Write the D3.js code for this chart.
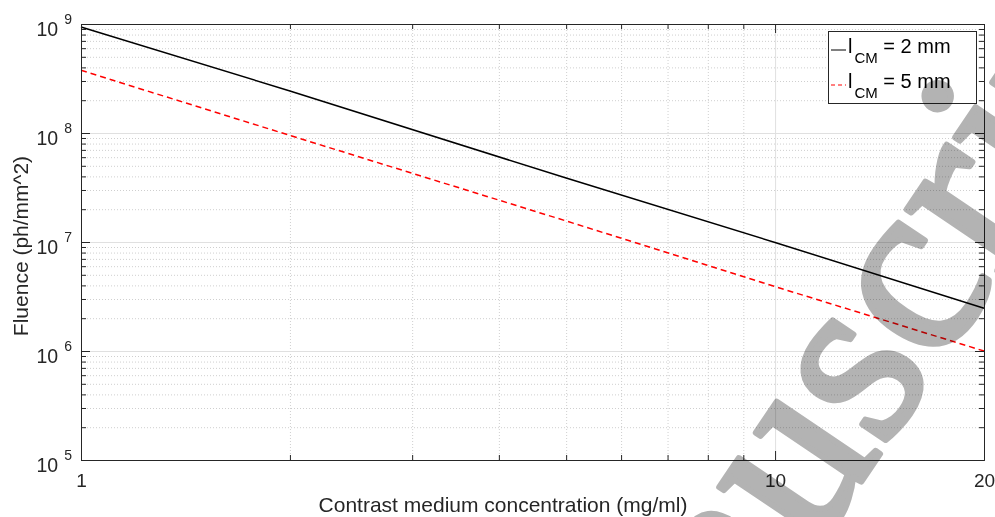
<!DOCTYPE html>
<html lang="en">
<head>
<meta charset="UTF-8" />
<title>Fluence vs contrast medium concentration</title>
<style>
  body { margin: 0; background: #fff; }
  svg { display: block; font-family: "Liberation Sans", Arial, sans-serif; }
</style>
</head>
<body>
<svg id="chart"></svg>
<script src="https://cdnjs.cloudflare.com/ajax/libs/d3/7.8.5/d3.min.js"></script>
<script>
  // values (log-log plot)
  const concentration = [1, 2, 5, 10, 20];
  const fluence2mm = [9.4e8, 2.43e8, 3.86e7, 9.9e6, 2.47e6];
  const fluence5mm = [3.76e8, 9.5e7, 1.56e7, 3.9e6, 1.0e6];
  const seriesLabels = ["2 mm", "5 mm"];
  const xTicks = [1, 10, 20];
  const xMinor = [2, 3, 4, 5, 6, 7, 8, 9];
  const yExponents = [5, 6, 7, 8, 9];
  const yMantissas = [2, 3, 4, 5, 6, 7, 8, 9];

  const width = 995, height = 517;
  const margin = { left: 81, top: 24, right: 11, bottom: 57 };
  const axisColor = "#262626";

  const svg = d3.select("#chart").attr("width", width).attr("height", height);

  const x = d3.scaleLog().domain([1, 20]).range([margin.left, width - margin.right]);
  const y = d3.scaleLog().domain([1e5, 1e9]).range([height - margin.bottom, margin.top]);

  const yMajor = yExponents.map((e) => Math.pow(10, e));
  const yMinor = [];
  yExponents.slice(0, -1).forEach((e) => yMantissas.forEach((m) => yMinor.push(m * Math.pow(10, e))));

  const plotW = width - margin.left - margin.right;
  const plotH = height - margin.top - margin.bottom;

  // minor grid (dotted)
  svg.append("g")
    .attr("transform", `translate(0, ${height - margin.bottom})`)
    .call(d3.axisBottom(x).tickValues(xMinor).tickSize(-plotH).tickFormat(""))
    .call((g) => g.select(".domain").remove())
    .selectAll("line").attr("stroke", "#cfcfcf").attr("stroke-dasharray", "1,2");
  svg.append("g")
    .attr("transform", `translate(${margin.left}, 0)`)
    .call(d3.axisLeft(y).tickValues(yMinor).tickSize(-plotW).tickFormat(""))
    .call((g) => g.select(".domain").remove())
    .selectAll("line").attr("stroke", "#cfcfcf").attr("stroke-dasharray", "1,2");

  // major grid
  svg.append("g")
    .attr("transform", `translate(0, ${height - margin.bottom})`)
    .call(d3.axisBottom(x).tickValues(xTicks).tickSize(-plotH).tickFormat(""))
    .call((g) => g.select(".domain").remove())
    .selectAll("line").attr("stroke", "#e0e0e0");
  svg.append("g")
    .attr("transform", `translate(${margin.left}, 0)`)
    .call(d3.axisLeft(y).tickValues(yMajor).tickSize(-plotW).tickFormat(""))
    .call((g) => g.select(".domain").remove())
    .selectAll("line").attr("stroke", "#e0e0e0");

  // lines
  const line = d3.line().x((d) => x(d[0])).y((d) => y(d[1]));
  svg.append("path")
    .datum(concentration.map((c, i) => [c, fluence2mm[i]]))
    .attr("fill", "none").attr("stroke", "#000").attr("stroke-width", 1.5)
    .attr("d", line);
  svg.append("path")
    .datum(concentration.map((c, i) => [c, fluence5mm[i]]))
    .attr("fill", "none").attr("stroke", "#ff0000").attr("stroke-width", 1.5)
    .attr("stroke-dasharray", "6,4")
    .attr("d", line);

  // axes, ticks pointing inward
  function styleAxis(g) {
    g.select(".domain").attr("stroke", axisColor);
    g.selectAll(".tick line").attr("stroke", axisColor);
    g.selectAll("text").attr("fill", axisColor);
  }
  const bottomY = height - margin.bottom;
  const rightX = width - margin.right;

  svg.append("g")
    .attr("transform", `translate(0, ${bottomY})`)
    .call(d3.axisBottom(x).tickValues(xTicks).tickSizeInner(-9).tickSizeOuter(0)
      .tickPadding(13.5).tickFormat(d3.format("d")))
    .attr("font-size", 19).attr("font-family", null)
    .call(styleAxis);
  svg.append("g")
    .attr("transform", `translate(0, ${bottomY})`)
    .call(d3.axisBottom(x).tickValues(xMinor).tickSizeInner(-5).tickSizeOuter(0).tickFormat(""))
    .call(styleAxis);
  svg.append("g")
    .attr("transform", `translate(0, ${margin.top})`)
    .call(d3.axisTop(x).tickValues(xTicks).tickSizeInner(-9).tickSizeOuter(0).tickFormat(""))
    .call(styleAxis);
  svg.append("g")
    .attr("transform", `translate(0, ${margin.top})`)
    .call(d3.axisTop(x).tickValues(xMinor).tickSizeInner(-5).tickSizeOuter(0).tickFormat(""))
    .call(styleAxis);

  svg.append("g")
    .attr("transform", `translate(${margin.left}, 0)`)
    .call(d3.axisLeft(y).tickValues(yMajor).tickSizeInner(-9).tickSizeOuter(0).tickFormat(""))
    .call(styleAxis);
  svg.append("g")
    .attr("transform", `translate(${margin.left}, 0)`)
    .call(d3.axisLeft(y).tickValues(yMinor).tickSizeInner(-5).tickSizeOuter(0).tickFormat(""))
    .call(styleAxis);
  svg.append("g")
    .attr("transform", `translate(${rightX}, 0)`)
    .call(d3.axisRight(y).tickValues(yMajor).tickSizeInner(-9).tickSizeOuter(0).tickFormat(""))
    .call(styleAxis);
  svg.append("g")
    .attr("transform", `translate(${rightX}, 0)`)
    .call(d3.axisRight(y).tickValues(yMinor).tickSizeInner(-5).tickSizeOuter(0).tickFormat(""))
    .call(styleAxis);

  // y tick labels 10^n
  const yLab = svg.append("g").attr("font-size", 19.5).attr("fill", axisColor);
  yExponents.forEach((e) => {
    const t = yLab.append("text")
      .attr("x", 72).attr("y", y(Math.pow(10, e)) + 11.5)
      .attr("text-anchor", "end");
    t.append("tspan").text("10");
    t.append("tspan").attr("dx", 6).attr("dy", -11.5).attr("font-size", 14).text(e);
  });

  // axis labels
  svg.append("text")
    .attr("x", 503).attr("y", 512)
    .attr("text-anchor", "middle").attr("font-size", 21).attr("fill", axisColor)
    .text("Contrast medium concentration (mg/ml)");
  svg.append("text")
    .attr("transform", "translate(28, 246) rotate(-90)")
    .attr("text-anchor", "middle").attr("font-size", 21).attr("fill", axisColor)
    .text("Fluence (ph/mm^2)");

  // legend
  const legend = svg.append("g");
  legend.append("rect")
    .attr("x", 828.5).attr("y", 31.5).attr("width", 148).attr("height", 72)
    .attr("fill", "#fff").attr("stroke", axisColor).attr("stroke-width", 1);
  const legendStyles = [
    { color: "#000", dash: null },
    { color: "#ff0000", dash: "4,3" },
  ];
  seriesLabels.forEach((lab, i) => {
    const by = 53 + i * 35;
    legend.append("line")
      .attr("x1", 831).attr("x2", 846).attr("y1", by - 3).attr("y2", by - 3)
      .attr("stroke", legendStyles[i].color).attr("stroke-width", 1)
      .attr("stroke-dasharray", legendStyles[i].dash);
    const t = legend.append("text").attr("x", 848).attr("y", by)
      .attr("font-size", 20).attr("fill", "#000");
    t.append("tspan").text("l");
    t.append("tspan").attr("dx", 2).attr("dy", 10).attr("font-size", 15).text("CM");
    t.append("tspan").attr("dy", -10).text(" = " + lab);
  });

  // watermark
  const wmSize = 250, wmAngle = -56;
  const wm = svg.append("text")
    .attr("font-family", "Liberation Serif, DejaVu Serif, serif")
    .attr("font-size", wmSize).attr("fill", "#b3b3b3")
    .attr("stroke", "#b3b3b3").attr("stroke-width", 6).attr("stroke-linejoin", "round")
    .style("mix-blend-mode", "multiply")
    .text("Manuscript");
  const ext = wm.node().getExtentOfChar(4);
  const cx = ext.x + ext.width / 2, cy = -0.23 * wmSize;
  const a = (wmAngle * Math.PI) / 180;
  const rx = cx * Math.cos(a) - cy * Math.sin(a);
  const ry = cx * Math.sin(a) + cy * Math.cos(a);
  wm.attr("transform", `translate(${862 - rx}, ${378 - ry}) rotate(${wmAngle})`);
</script>
</body>
</html>
